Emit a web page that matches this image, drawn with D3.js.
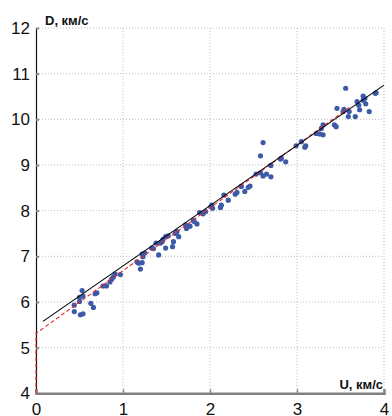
<!DOCTYPE html>
<html><head><meta charset="utf-8">
<script src="https://cdn.jsdelivr.net/npm/d3@7"></script>
<style>html,body{margin:0;padding:0;background:#fff;overflow:hidden}</style>
</head><body>
<svg id="c" width="392" height="416"></svg>
<script>
const xTicks = [0, 1, 2, 3, 4];
const yTicks = [4, 5, 6, 7, 8, 9, 10, 11, 12];
const xTitle = "U, км/с";
const yTitle = "D, км/с";
const uVals = [0.44,0.44,0.50,0.53,0.50,0.54,0.51,0.54,0.63,0.66,0.68,0.70,0.77,0.81,0.87,0.89,0.91,0.97,0.85,
 1.16,1.18,1.22,1.20,1.22,1.23,1.25,1.33,1.35,1.38,1.41,1.43,1.45,1.46,1.49,1.52,1.49,1.57,1.58,1.60,1.62,1.64,
 1.72,1.73,1.77,1.81,1.85,1.88,1.82,1.92,1.95,2.02,2.03,2.01,2.12,2.13,2.16,2.21,2.29,2.31,2.36,2.40,2.44,2.46,
 2.53,2.58,2.61,2.65,2.70,2.58,2.61,2.70,2.81,2.82,2.87,2.99,3.05,3.09,3.10,3.22,3.26,3.28,3.30,3.30,3.43,3.45,
 3.46,3.53,3.54,3.56,3.59,3.60,3.67,3.69,3.71,3.72,3.76,3.76,3.78,3.79,3.83,3.90,3.91];
const dVals = [5.93,5.79,6.10,6.25,6.01,6.13,5.72,5.74,5.97,5.88,6.18,6.20,6.35,6.35,6.50,6.55,6.61,6.60,6.44,
 6.88,6.85,6.86,6.72,7.05,6.99,7.07,7.18,7.17,7.29,7.03,7.29,7.32,7.37,7.43,7.45,7.18,7.21,7.32,7.50,7.54,7.43,
 7.69,7.61,7.66,7.78,7.71,7.96,7.76,7.93,7.98,8.12,8.05,8.09,8.07,8.12,8.34,8.23,8.36,8.40,8.53,8.42,8.51,8.54,
 8.80,8.83,8.76,8.80,8.74,9.20,9.49,8.99,9.13,9.15,9.07,9.42,9.51,9.39,9.42,9.69,9.68,9.80,9.66,9.88,9.88,9.84,
 10.24,10.17,10.22,10.68,10.06,10.17,10.06,10.39,10.31,10.21,10.42,10.51,10.46,10.34,10.17,10.57,10.58];
// fit lines: [U, D] endpoints
const blackFit = [[0.08, 5.576], [4.0, 10.75]];
const redFit = [[0.0, 4.0], [0.0, 5.31], [3.6, 10.26]];

const svg = d3.select("#c");
const x = d3.scaleLinear().domain([0, 4]).range([36, 384]);
const y = d3.scaleLinear().domain([4, 12]).range([393.3, 28]);
const font = "'Liberation Sans', Arial, sans-serif";

// grid
svg.append("g").selectAll("line").data(xTicks.slice(1)).join("line")
  .attr("x1", d => x(d)).attr("x2", d => x(d)).attr("y1", y(12)).attr("y2", y(4))
  .attr("stroke", "#bdbdbd").attr("stroke-width", 1).attr("stroke-dasharray", "1,2");
svg.append("g").selectAll("line").data(yTicks.slice(1)).join("line")
  .attr("x1", x(0)).attr("x2", x(4)).attr("y1", d => y(d)).attr("y2", d => y(d))
  .attr("stroke", "#bdbdbd").attr("stroke-width", 1).attr("stroke-dasharray", "1,2");

// axes
const yAxis = d3.axisLeft(y).tickValues(yTicks).tickSize(-3).tickPadding(8).tickFormat(d3.format("d"));
const gy = svg.append("g").attr("transform", `translate(${x(0)},0)`).call(yAxis);
gy.select(".domain").attr("stroke", "#111").attr("stroke-width", 1.2);
gy.selectAll(".tick line").attr("stroke", "#888").attr("stroke-width", 2);
gy.selectAll(".tick text").attr("font-family", font).attr("font-size", 17).attr("fill", "#111").attr("dx", 2);

const xAxis = d3.axisBottom(x).tickValues(xTicks).tickSize(-4).tickPadding(10).tickFormat(d3.format("d"));
const gx = svg.append("g").attr("transform", `translate(0,${y(4)})`).call(xAxis);
gx.select(".domain").attr("stroke", "#808080").attr("stroke-width", 2.5);
gx.selectAll(".tick line").attr("stroke", "#888").attr("stroke-width", 1.5);
gx.selectAll(".tick text").attr("font-family", font).attr("font-size", 17).attr("fill", "#111");

// points
svg.append("g").selectAll("circle").data(uVals.map((u, i) => [u, dVals[i]])).join("circle")
  .attr("cx", d => x(d[0])).attr("cy", d => y(d[1])).attr("r", 2.6)
  .attr("fill", "#3c5aa8");

const line = d3.line().x(d => x(d[0])).y(d => y(d[1]));
svg.append("path").attr("d", line(redFit)).attr("fill", "none")
  .attr("stroke", "#e8262a").attr("stroke-width", 1.1).attr("stroke-dasharray", "4,2.5");
svg.append("path").attr("d", line(blackFit)).attr("fill", "none")
  .attr("stroke", "#000").attr("stroke-width", 1.1);

// titles
svg.append("text").attr("x", 45).attr("y", 25).text(yTitle)
  .attr("font-family", font).attr("font-size", 13).attr("font-weight", "bold").attr("fill", "#111");
svg.append("text").attr("x", 383).attr("y", 389).attr("text-anchor", "end").text(xTitle)
  .attr("font-family", font).attr("font-size", 13).attr("font-weight", "bold").attr("fill", "#111");
</script>
</body></html>
